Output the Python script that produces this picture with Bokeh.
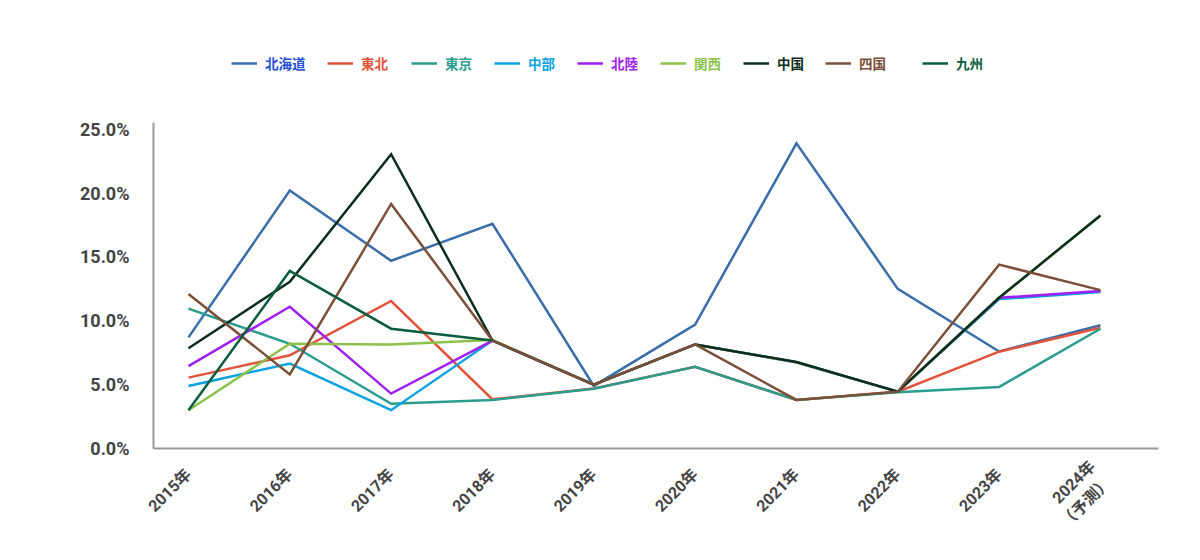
import math
from bokeh.plotting import figure
from bokeh.models import Range1d, FixedTicker, PrintfTickFormatter, Legend, LegendItem
from bokeh.core.properties import value
from bokeh.embed import file_html
from bokeh.resources import INLINE

# ---- data ----
years = ["2015年", "2016年", "2017年", "2018年", "2019年", "2020年",
         "2021年", "2022年", "2023年", "2024年\n（予測）"]
x_idx = list(range(len(years)))
NA = float("nan")

hokkaido = [8.7, 20.2, 14.7, 17.6, 4.9, 9.7, 23.9, 12.5, 7.6, 9.65]
tohoku = [5.55, 7.3, 11.55, 3.85, 4.7, 6.4, 3.8, 4.45, 7.58, 9.46]
tokyo = [10.95, 8.2, 3.5, 3.8, 4.68, 6.4, 3.8, 4.4, 4.82, 9.38]
chubu = [4.9, 6.65, 3.0, 8.45, 5.0, 8.15, 6.75, 4.45, 11.7, 12.25]
hokuriku = [6.45, 11.1, 4.3, 8.45, 5.0, 8.15, 6.75, 4.45, 11.8, 12.33]
kansai = [3.0, 8.2, 8.15, 8.5, 5.0, 8.15, 6.75, 4.45, 11.8, 18.25]
chugoku = [7.85, 13.05, 23.05, 8.45, 5.0, 8.15, 6.77, 4.45, 11.8, 18.25]
shikoku = [12.1, 5.8, 19.15, 8.45, 5.0, 8.15, 3.8, 4.45, 14.4, 12.4]
kyushu = [3.0, 13.9, 9.38, 8.45, NA, NA, NA, NA, NA, NA]

names = ["北海道", "東北", "東京", "中部", "北陸", "関西", "中国", "四国", "九州"]
series = [hokkaido, tohoku, tokyo, chubu, hokuriku, kansai, chugoku, shikoku, kyushu]
line_colors = ["#3a6eaa", "#e2533a", "#2a9d8f", "#0aa2e0", "#a020f0",
               "#8bc34a", "#0b2e1c", "#7b4f38", "#0b5e3b"]
text_colors = ["#1f4fd6", "#e2533a", "#2a9d8f", "#0aa2e0", "#a020f0",
               "#8bc34a", "#0b2e1c", "#7b4f38", "#0b5e3b"]
legend_x = [78, 174, 258, 341, 424, 507, 590, 672, 769]

y_ticks = [0, 5, 10, 15, 20, 25]

FONT = "Roboto, 'Noto Sans CJK JP', sans-serif"
LFONT = "'Noto Sans CJK JP', sans-serif"

p = figure(width=1184, height=552, output_backend="svg", toolbar_location=None,
           x_range=Range1d(-0.345, 9.573), y_range=Range1d(0, 35.08),
           min_border_left=153, min_border_right=26, min_border_top=0,
           min_border_bottom=104)
p.outline_line_color = None
p.xgrid.grid_line_color = None
p.ygrid.grid_line_color = None
p.background_fill_color = "white"
p.border_fill_color = "white"

for ax in (p.xaxis[0], p.yaxis[0]):
    ax.axis_line_color = "#999999"
    ax.axis_line_width = 2
    ax.major_tick_line_color = None
    ax.minor_tick_line_color = None
    ax.major_label_text_font = FONT
    ax.major_label_text_font_style = "bold"
    ax.major_label_text_color = "#444444"

p.yaxis.bounds = (0, 25.5)
p.yaxis.ticker = FixedTicker(ticks=y_ticks)
p.yaxis.formatter = PrintfTickFormatter(format="%.1f%%")
p.yaxis.major_label_text_font_size = "18px"
p.yaxis.major_label_standoff = 18

p.xaxis.ticker = FixedTicker(ticks=x_idx)
p.xaxis.major_label_overrides = {i: years[i] for i in x_idx}
p.xaxis.major_label_orientation = math.pi / 4
p.xaxis.major_label_text_font_size = "16px"
p.xaxis.major_label_standoff = 17

for name, ys, lc, tc, lx in zip(names, series, line_colors, text_colors, legend_x):
    r = p.line(x_idx, ys, line_color=lc, line_width=2.5, line_join="miter")
    leg = Legend(items=[LegendItem(label=value(name), renderers=[r])],
                 location=(lx, 375), orientation="horizontal",
                 label_text_color=tc, label_text_font=LFONT,
                 label_text_font_style="bold", label_text_font_size="13.5px",
                 glyph_width=26, glyph_height=20, label_height=20,
                 label_standoff=8, padding=0, margin=0, spacing=0,
                 border_line_color=None, background_fill_alpha=0)
    p.add_layout(leg, "center")

open("out.html", "w").write(file_html(p, INLINE))
